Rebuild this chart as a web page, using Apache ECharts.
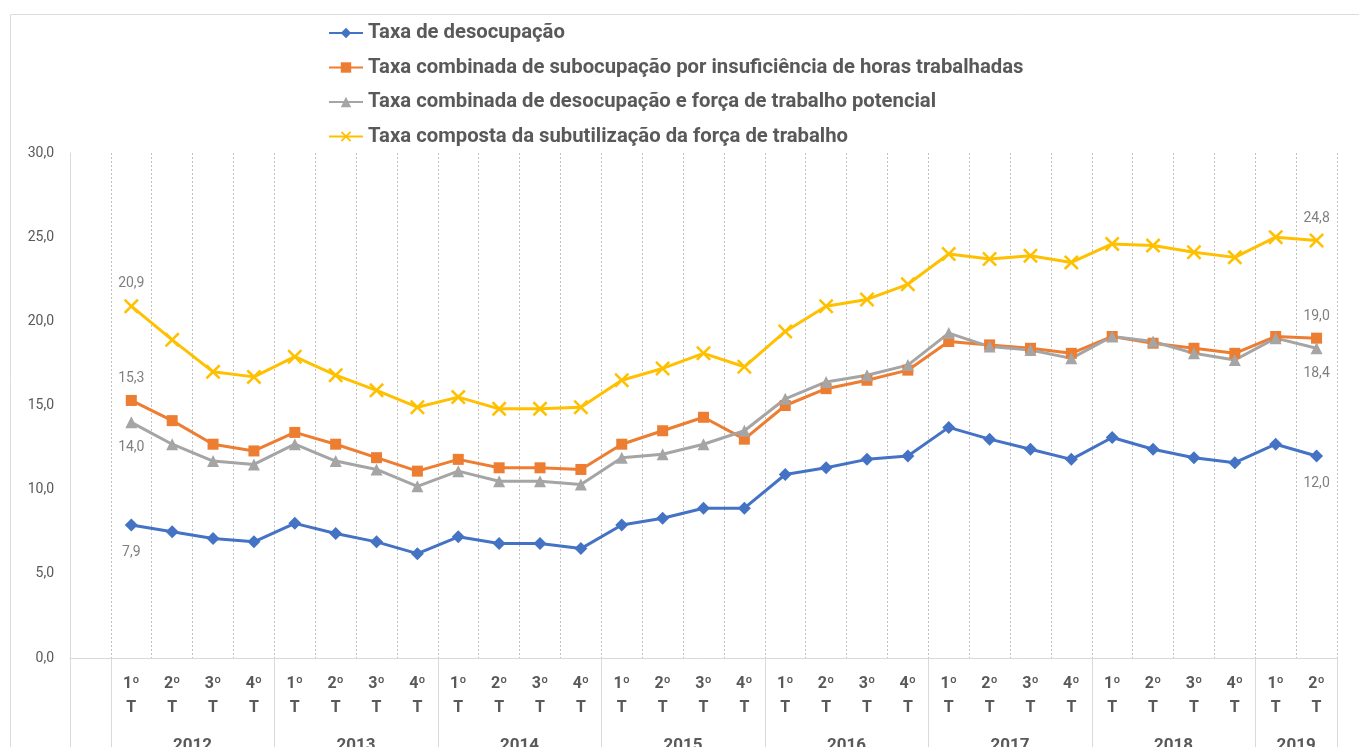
<!DOCTYPE html>
<html>
<head>
<meta charset="utf-8">
<script src="https://cdn.jsdelivr.net/npm/echarts@6/dist/echarts.min.js"></script>
<style>
  html, body { margin: 0; padding: 0; background: #fff; overflow: hidden; }
  #chart { width: 1359px; height: 747px; }
</style>
</head>
<body>
<div id="chart"></div>
<script>
// periods, one per quarter
const periods = [
  '1º T 2012', '2º T 2012', '3º T 2012', '4º T 2012',
  '1º T 2013', '2º T 2013', '3º T 2013', '4º T 2013',
  '1º T 2014', '2º T 2014', '3º T 2014', '4º T 2014',
  '1º T 2015', '2º T 2015', '3º T 2015', '4º T 2015',
  '1º T 2016', '2º T 2016', '3º T 2016', '4º T 2016',
  '1º T 2017', '2º T 2017', '3º T 2017', '4º T 2017',
  '1º T 2018', '2º T 2018', '3º T 2018', '4º T 2018',
  '1º T 2019', '2º T 2019'
];
const years = ['2012', '2013', '2014', '2015', '2016', '2017', '2018', '2019'];
const quartersPerYear = [4, 4, 4, 4, 4, 4, 4, 2];

const desocupacao = [
  7.9, 7.5, 7.1, 6.9, 8.0, 7.4, 6.9, 6.2, 7.2, 6.8, 6.8, 6.5,
  7.9, 8.3, 8.9, 8.9, 10.9, 11.3, 11.8, 12.0, 13.7, 13.0, 12.4, 11.8,
  13.1, 12.4, 11.9, 11.6, 12.7, 12.0
];
const subocupacao = [
  15.3, 14.1, 12.7, 12.3, 13.4, 12.7, 11.9, 11.1, 11.8, 11.3, 11.3, 11.2,
  12.7, 13.5, 14.3, 13.0, 15.0, 16.0, 16.5, 17.1, 18.8, 18.6, 18.4, 18.1,
  19.1, 18.7, 18.4, 18.1, 19.1, 19.0
];
const forcaPotencial = [
  14.0, 12.7, 11.7, 11.5, 12.7, 11.7, 11.2, 10.2, 11.1, 10.5, 10.5, 10.3,
  11.9, 12.1, 12.7, 13.5, 15.4, 16.4, 16.8, 17.4, 19.3, 18.5, 18.3, 17.8,
  19.1, 18.8, 18.1, 17.7, 19.0, 18.4
];
const subutilizacao = [
  20.9, 18.9, 17.0, 16.7, 17.9, 16.8, 15.9, 14.9, 15.5, 14.8, 14.8, 14.9,
  16.5, 17.2, 18.1, 17.3, 19.4, 20.9, 21.3, 22.2, 24.0, 23.7, 23.9, 23.5,
  24.6, 24.5, 24.1, 23.8, 25.0, 24.8
];

const seriesNames = [
  'Taxa de desocupação',
  'Taxa combinada de subocupação por insuficiência de horas trabalhadas',
  'Taxa combinada de desocupação e força de trabalho potencial',
  'Taxa composta da subutilização da força de trabalho'
];

const FONT = 'Roboto';
const TEXT = '#595959';
const fmt = v => v.toFixed(1).replace('.', ',');

// first slot of the axis is an empty column, as in the original
const cats = [''].concat(periods);

// year labels sit on group centres: use a point axis with one more slot
const yearSlots = new Array(cats.length + 1).fill('');
let pos = 1;
years.forEach((y, i) => {
  yearSlots[pos + quartersPerYear[i] / 2] = y;
  pos += quartersPerYear[i];
});
// boundaries for the year separators
const groupStarts = [0];
pos = 1;
quartersPerYear.forEach(n => { groupStarts.push(pos); pos += n; });

// only first and last points carry a label
function buildData(values, labelPos, dist) {
  const data = [null];
  values.forEach((v, i) => {
    if (i === 0 || i === values.length - 1) {
      data.push({
        value: v,
        label: {
          show: true,
          position: labelPos,
          distance: dist,
          formatter: p => fmt(p.value),
          color: '#7f7f7f',
          fontSize: 14,
          fontFamily: FONT
        }
      });
    } else {
      data.push(v);
    }
  });
  return data;
}

const xCross = 'path://M0,1.2L1.2,0L5,3.8L8.8,0L10,1.2L6.2,5L10,8.8L8.8,10L5,6.2L1.2,10L0,8.8L3.8,5Z';

const chart = echarts.init(document.getElementById('chart'), null, { renderer: 'canvas' });

chart.setOption({
  animation: false,
  backgroundColor: '#ffffff',
  graphic: [{
    type: 'rect',
    shape: { x: 10.5, y: 14.5, width: 1360, height: 740 },
    style: { fill: 'none', stroke: '#dcdcdc', lineWidth: 1 },
    silent: true
  }],
  legend: {
    orient: 'vertical',
    left: 323,
    top: 18,
    itemWidth: 34,
    itemHeight: 13,
    itemGap: 14.5,
    textStyle: {
      color: TEXT,
      fontFamily: FONT,
      fontWeight: 'bold',
      fontSize: 20.3,
      lineHeight: 20
    },
    data: seriesNames
  },
  grid: { left: 70, right: 22, top: 153, bottom: 89, outerBoundsMode: 'none' },
  xAxis: [
    {
      type: 'category',
      data: cats,
      boundaryGap: true,
      axisLine: { show: true, lineStyle: { color: '#d9d9d9', width: 1 } },
      axisTick: { show: false },
      splitLine: {
        show: true,
        interval: 0,
        lineStyle: { color: '#bfbfbf', type: [2, 2], width: 1 }
      },
      axisLabel: {
        interval: 0,
        margin: 14,
        color: TEXT,
        fontFamily: FONT,
        fontWeight: 'bold',
        fontSize: 16,
        lineHeight: 24,
        formatter: v => v ? v.slice(0, 2) + '\nT' : ''
      }
    },
    {
      type: 'category',
      data: cats,
      boundaryGap: true,
      position: 'bottom',
      axisLine: { show: false },
      axisLabel: { show: false },
      splitLine: { show: false },
      axisTick: {
        show: true,
        length: 89,
        interval: idx => groupStarts.indexOf(idx) !== -1,
        lineStyle: { color: '#d9d9d9', width: 1 }
      }
    },
    {
      type: 'category',
      data: yearSlots,
      boundaryGap: false,
      position: 'bottom',
      axisLine: { show: false },
      axisTick: { show: false },
      splitLine: { show: false },
      axisLabel: {
        interval: 0,
        margin: 79,
        color: TEXT,
        fontFamily: FONT,
        fontWeight: 'bold',
        fontSize: 17
      }
    }
  ],
  yAxis: {
    type: 'value',
    min: 0,
    max: 30,
    interval: 5,
    axisLine: { show: true, lineStyle: { color: '#d9d9d9', width: 1 } },
    axisTick: { show: false },
    splitLine: { show: false },
    axisLabel: {
      margin: 16,
      color: TEXT,
      fontFamily: FONT,
      fontSize: 14,
      formatter: v => fmt(v)
    }
  },
  series: [
    {
      name: seriesNames[0],
      type: 'line',
      data: buildData(desocupacao, 'bottom', 14),
      symbol: 'diamond',
      symbolSize: 13,
      color: '#4472C4',
      lineStyle: { width: 3, color: '#4472C4' },
      itemStyle: { color: '#4472C4' }
    },
    {
      name: seriesNames[1],
      type: 'line',
      data: buildData(subocupacao, 'top', 9),
      symbol: 'rect',
      symbolSize: 11,
      color: '#ED7D31',
      lineStyle: { width: 3, color: '#ED7D31' },
      itemStyle: { color: '#ED7D31' }
    },
    {
      name: seriesNames[2],
      type: 'line',
      data: buildData(forcaPotencial, 'bottom', 12),
      symbol: 'triangle',
      symbolSize: 12,
      color: '#A5A5A5',
      lineStyle: { width: 3, color: '#A5A5A5' },
      itemStyle: { color: '#A5A5A5' }
    },
    {
      name: seriesNames[3],
      type: 'line',
      data: buildData(subutilizacao, 'top', 8),
      symbol: xCross,
      symbolSize: 15,
      color: '#FFC000',
      lineStyle: { width: 3, color: '#FFC000' },
      itemStyle: { color: '#FFC000' }
    }
  ]
});
</script>
</body>
</html>
